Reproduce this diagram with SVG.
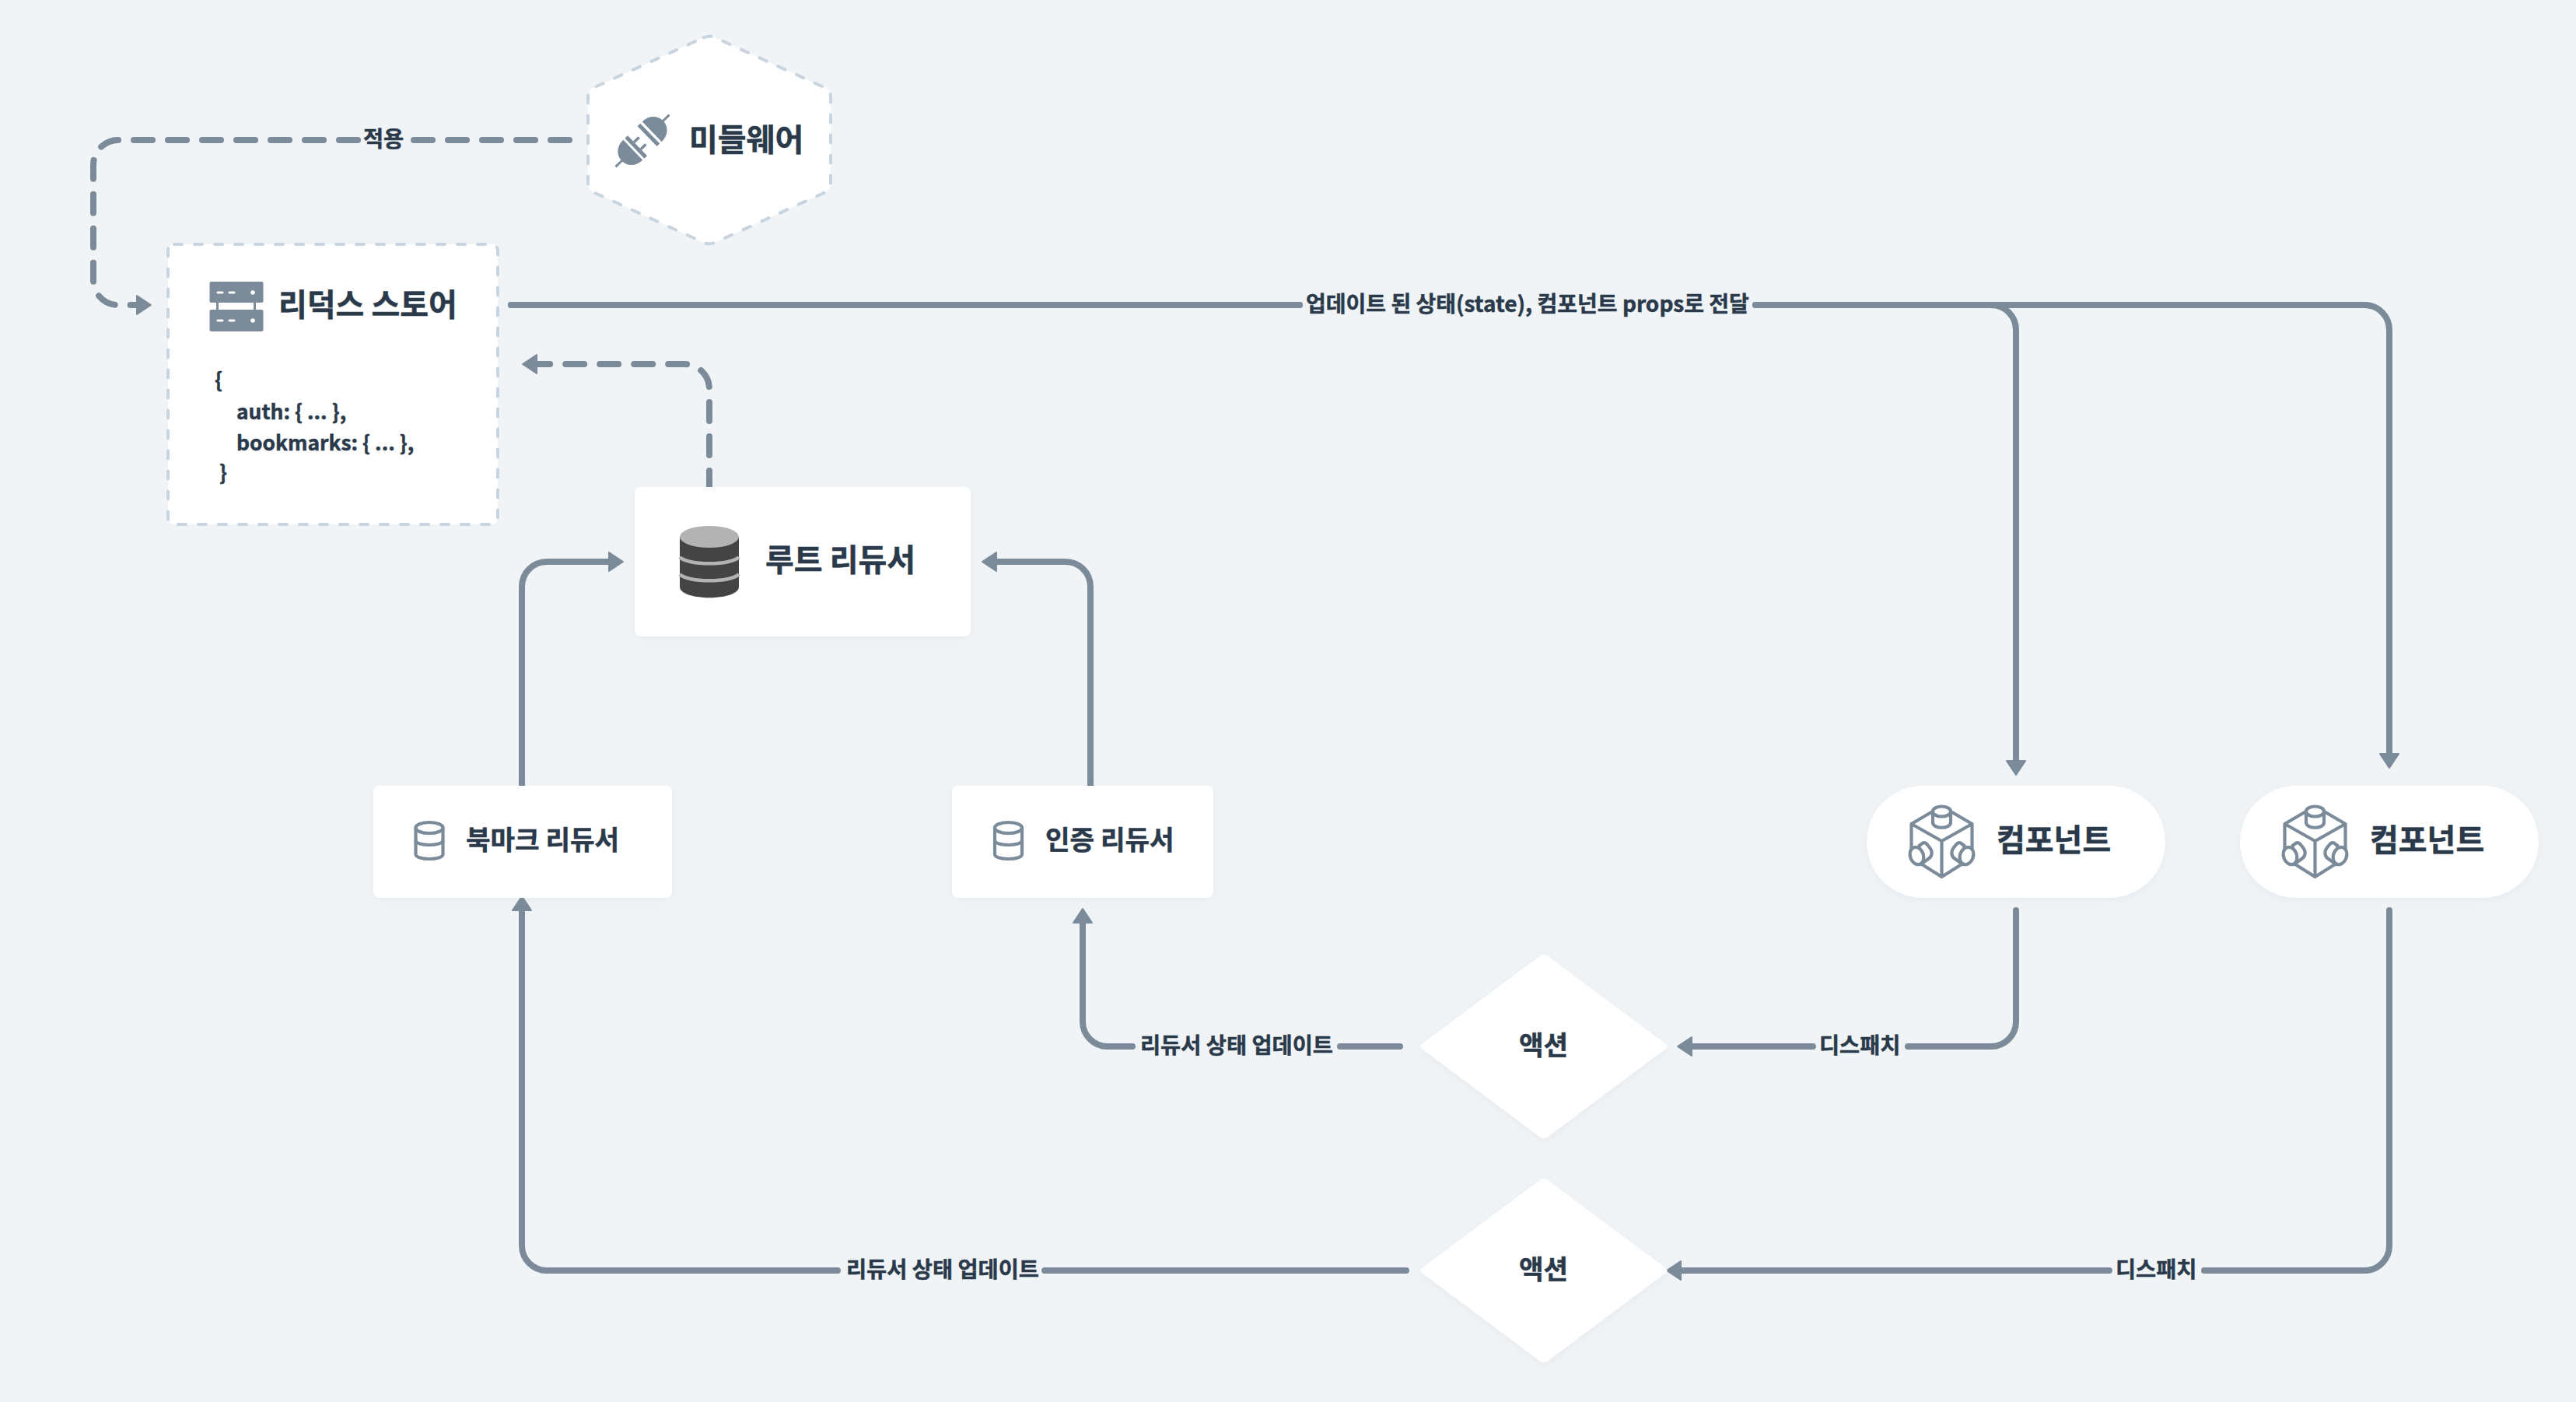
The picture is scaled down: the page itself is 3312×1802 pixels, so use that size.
<svg xmlns="http://www.w3.org/2000/svg" xmlns:xlink="http://www.w3.org/1999/xlink" width="3312" height="1802" viewBox="0 0 3312 1802">
<style>
text{font-family:"Noto Sans CJK KR","Noto Sans",sans-serif;font-weight:700;fill:#2a3a4a;stroke:#2a3a4a;stroke-width:.5px}
.t36{font-size:40px}.t32{font-size:34.3px}.t26{font-size:28.4px}.t28{font-size:28px}.code{font-size:26.4px}
.line{fill:none;stroke:#7b8b9a;stroke-width:8;stroke-linecap:round;marker-end:url(#arrow)}
.card{fill:#fff;filter:url(#soft)}
.dash{fill:#fff;stroke:#c8d4df;stroke-width:4;stroke-dasharray:10 16;stroke-linecap:round}
.ico{fill:none;stroke:#7b8b9a;stroke-width:4.2;stroke-linejoin:round;stroke-linecap:round}
.ici{fill:#fff;stroke:#7b8b9a;stroke-width:4.2;stroke-linejoin:round}
.g{fill:#7b8b9a}.w{fill:#fff}
</style>
<defs>
<filter id="soft" x="-10%" y="-10%" width="120%" height="125%"><feDropShadow dx="0" dy="4" stdDeviation="6" flood-color="#7b8b9a" flood-opacity="0.08"/></filter>
<marker id="arrow" markerUnits="userSpaceOnUse" markerWidth="32" markerHeight="32" refX="11" refY="15" orient="auto"><path d="M2,3 L20,15 L2,27 Z" fill="#7b8b9a" stroke="#7b8b9a" stroke-width="2" stroke-linejoin="round"/></marker>
<path id="dia" d="M-4.8,-116.4 Q0,-120 4.8,-116.4 L156.2,-3.6 Q161,0 156.2,3.6 L4.8,116.4 Q0,120 -4.8,116.4 L-156.2,3.6 Q-161,0 -156.2,-3.6 Z"/>
<g id="dbsmall">
<path class="ico" d="M-17.5,-17 V17 C-17.5,25 17.5,25 17.5,17 V-17"/>
<ellipse class="ico" cx="0" cy="-17" rx="17.5" ry="7"/>
<path class="ico" d="M-17.5,-1 C-17.5,7 17.5,7 17.5,-1"/>
</g>
<g id="cube">
<path class="ico" d="M-39,21 V-22 L-10,-39 M10,-39 L39,-22 V21 M-27,29 L0,46 L27,29 M-39,-22 L0,0 L39,-22 M0,0 V46"/>
<path class="ici" d="M-11.5,-38 V-24 C-11.5,-15 11.5,-15 11.5,-24 V-38 Z"/>
<ellipse class="ici" cx="0" cy="-38" rx="11.5" ry="6.5"/>
<path class="ici" d="M-29,6 L-25,3 Q-22,1 -19,4 L-15,9 C-12,13 -12,19 -16,22 L-27,30 Z"/>
<ellipse class="ici" cx="-32" cy="19" rx="8.5" ry="11.5" transform="rotate(-20 -32 19)"/>
<path class="ici" d="M29,6 L25,3 Q22,1 19,4 L15,9 C12,13 12,19 16,22 L27,30 Z"/>
<ellipse class="ici" cx="32" cy="19" rx="8.5" ry="11.5" transform="rotate(20 32 19)"/>
</g>
</defs>
<rect width="3312" height="1802" fill="#f0f4f7"/>

<g id="connectors">
<path class="line" d="M732,180 H152 A32,32 0 0 0 120,212 V360 A32,32 0 0 0 152,392 H185" stroke-dasharray="24 20 24 20 24 20 24 20 24 72 24 20 24 20 24 20 24 20 24 20 24 20 24 20 24 20 24 20 24 20 24 20 24 20 24 20 24 20"/>
<path class="line" d="M912,629 V500 A32,32 0 0 0 880,468 H681" stroke-dasharray="24 20"/>
<path class="line" d="M657,392 H2560 A32,32 0 0 1 2592,424 V987" stroke-dasharray="1014 586 6000 10"/>
<path class="line" d="M657,392 H3040 A32,32 0 0 1 3072,424 V978" stroke-dasharray="1014 586 6000 10"/>
<path class="line" d="M671,1010 V754 A32,32 0 0 1 703,722 H792"/>
<path class="line" d="M1402,1010 V754 A32,32 0 0 0 1370,722 H1272"/>
<path class="line" d="M1800,1345 H1424 A32,32 0 0 1 1392,1313 V1177" stroke-dasharray="77 267 6000 10"/>
<path class="line" d="M1808,1633 H703 A32,32 0 0 1 671,1601 V1161" stroke-dasharray="465 266 6000 10"/>
<path class="line" d="M2592,1170 V1313 A32,32 0 0 1 2560,1345 H2166" stroke-dasharray="300.27 122 6000 10"/>
<path class="line" d="M3072,1170 V1601 A32,32 0 0 1 3040,1633 H2152" stroke-dasharray="687.27 122 6000 10"/>
<text class="t26" x="467" y="189">적용</text>
<text class="t28" x="1679" y="401">업데이트 된 상태(state), 컴포넌트 props로 전달</text>
<text class="t26" x="1466" y="1354">리듀서 상태 업데이트</text>
<text class="t26" x="1088" y="1642">리듀서 상태 업데이트</text>
<text class="t26" x="2339" y="1354">디스패치</text>
<text class="t26" x="2720" y="1642">디스패치</text>
</g>

<g id="middleware">
<path class="dash" d="M904.7,48.3 Q912,45 919.3,48.3 L1060.7,112.7 Q1068,116 1068,124 V236 Q1068,244 1060.7,247.3 L919.3,311.7 Q912,315 904.7,311.7 L763.3,247.3 Q756,244 756,236 V124 Q756,116 763.3,112.7 Z"/>
<g transform="translate(826,181) rotate(-44)">
<rect class="g" x="36" y="-1.5" width="12" height="3"/>
<path class="g" d="M17,-18 C30,-18 37,-9 37,0 C37,9 30,18 17,18 Z"/>
<rect class="g" x="8.5" y="-18" width="5" height="36"/>
<rect class="g" x="-48" y="-1.5" width="12" height="3"/>
<path class="g" d="M-17,-18 C-30,-18 -37,-9 -37,0 C-37,9 -30,18 -17,18 Z"/>
<rect class="g" x="-14" y="-18" width="5" height="36"/>
<rect class="g" x="-9" y="-8" width="9" height="3.5"/>
<rect class="g" x="-9" y="4.5" width="9" height="3.5"/>
</g>
<text class="t36" x="886" y="194">미들웨어</text>
</g>

<g id="redux-store">
<rect class="dash" x="216" y="314" width="424" height="360" rx="8"/>
<rect class="g" x="269.5" y="362" width="69" height="27" rx="2"/>
<rect class="g" x="269.5" y="398" width="69" height="28" rx="2"/>
<rect class="g" x="278" y="389" width="3" height="9"/>
<rect class="g" x="326" y="389" width="3" height="9"/>
<path d="M280,376 H286 M295,376 H301 M280,412 H286 M295,412 H301" stroke="#fff" stroke-width="3" stroke-linecap="round"/>
<circle class="w" cx="325" cy="376" r="2.8"/>
<circle class="w" cx="325" cy="412" r="2.8"/>
<text class="t36" x="358" y="406">리덕스 스토어</text>
<text class="code" x="276" y="498">{</text>
<text class="code" x="304" y="539">auth: { ... },</text>
<text class="code" x="304" y="579">bookmarks: { ... },</text>
<text class="code" x="282" y="617">}</text>
</g>

<g id="root-reducer">
<rect class="card" x="816" y="626" width="432" height="192" rx="8"/>
<path d="M874,690 V754 C874,773 950,773 950,754 V690 Z" fill="#444"/>
<ellipse cx="912" cy="690" rx="38" ry="14" fill="#b3b3b3"/>
<path d="M874,716 C884,727 940,727 950,716 M874,738 C884,749 940,749 950,738" fill="none" stroke="#b3b3b3" stroke-width="4.5"/>
<text class="t36" x="984" y="734">루트 리듀서</text>
</g>

<g id="bookmark-reducer">
<rect class="card" x="480" y="1010" width="384" height="144" rx="8"/>
<use href="#dbsmall" x="552" y="1081"/>
<text class="t32" x="599" y="1092">북마크 리듀서</text>
</g>

<g id="auth-reducer">
<rect class="card" x="1224" y="1010" width="336" height="144" rx="8"/>
<use href="#dbsmall" x="1296.5" y="1081"/>
<text class="t32" x="1344" y="1092">인증 리듀서</text>
</g>

<g id="component-1">
<rect class="card" x="2400" y="1010" width="384" height="144" rx="72"/>
<use href="#cube" x="2496.5" y="1081"/>
<text class="t36" x="2567" y="1094">컴포넌트</text>
</g>

<g id="component-2">
<rect class="card" x="2880" y="1010" width="384" height="144" rx="72"/>
<use href="#cube" x="2976.5" y="1081"/>
<text class="t36" x="3047" y="1094">컴포넌트</text>
</g>

<g id="action-1">
<use href="#dia" x="1985" y="1345" class="card"/>
<text class="t32" x="1953" y="1356">액션</text>
</g>

<g id="action-2">
<use href="#dia" x="1985" y="1633" class="card"/>
<text class="t32" x="1953" y="1644">액션</text>
</g>
</svg>
